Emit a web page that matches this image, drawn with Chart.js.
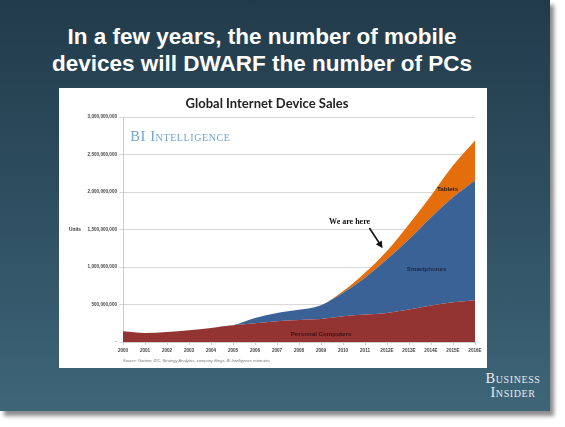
<!DOCTYPE html>
<html>
<head>
<meta charset="utf-8">
<script src="https://cdn.jsdelivr.net/npm/chart.js@4"></script>
<style>
  html, body { margin: 0; padding: 0; background: #fff; }
  body { width: 565px; height: 427px; position: relative; overflow: hidden; }
  #slide {
    position: absolute; left: 0; top: 0; width: 550px; height: 411px;
    background: linear-gradient(to bottom, #223b4a 0%, #2e4f61 50%, #3e6578 100%);
    box-shadow: 4px 5px 4px rgba(0, 0, 0, 0.45);
  }
  #headline {
    position: absolute; left: 0; top: 23px; width: 524px;
    text-align: center; color: #fff;
    font: bold 22.5px/27px "Liberation Sans", Arial, sans-serif;
  }
  #panel {
    position: absolute; left: 59px; top: 88px; width: 428px; height: 280px;
    background: #fff;
  }
  #logo {
    position: absolute; left: 480px; top: 372px; width: 66px;
    text-align: center; color: #e6ebee;
    font: 14.5px/13.5px "Liberation Serif", serif; font-variant: small-caps;
    letter-spacing: 0.6px;
  }
</style>
</head>
<body>
<div id="slide">
  <div id="headline">In a few years, the number of mobile<br>devices will DWARF the number of PCs</div>
  <div id="panel"><canvas id="chart" width="428" height="280"></canvas></div>
  <div id="logo">Business<br>Insider</div>
</div>
<script>
// units sold, millions
const years = ["2000", "2001", "2002", "2003", "2004", "2005", "2006", "2007", "2008",
  "2009", "2010", "2011", "2012E", "2013E", "2014E", "2015E", "2016E"];
const personalComputers = [143, 120, 134, 156, 188, 223, 250, 277, 295, 308, 344, 366, 388, 433, 487, 531, 558];
const smartphones = [0, 0, 0, 0, 0, 0, 71, 111, 134, 183, 312, 491, 715, 938, 1174, 1398, 1594];
const tablets = [0, 0, 0, 0, 0, 0, 0, 0, 0, 0, 20, 67, 111, 200, 290, 424, 536];

const tickFont = { family: "Liberation Sans", size: 4.6, weight: "bold" };

// text labels sitting on the chart, placed by category index and value
const labels = [
  { text: "Tablets", x: 14.75, y: 2040, font: "bold 6.2px 'Liberation Sans'", color: "#2a1a10" },
  { text: "Smartphones", x: 13.8, y: 970, font: "bold 6.2px 'Liberation Sans'", color: "#1a2846" },
  { text: "Personal Computers", x: 9.0, y: 107, font: "bold 6.2px 'Liberation Sans'", color: "#3a1210" },
  { text: "We are here", x: 10.3, y: 1600, font: "bold 8px 'Liberation Serif'", color: "#111" },
];

const overlay = {
  id: "overlay",
  afterDatasetsDraw(chart) {
    const { ctx, scales } = chart;
    const xs = scales.x, ys = scales.y;
    ctx.save();
    ctx.textAlign = "center";
    ctx.textBaseline = "middle";
    labels.forEach((l) => {
      ctx.font = l.font;
      ctx.fillStyle = l.color;
      ctx.fillText(l.text, xs.getPixelForValue(l.x), ys.getPixelForValue(l.y * 1e6));
    });

    // arrow pointing at 2012
    const x1 = xs.getPixelForValue(11.2), y1 = ys.getPixelForValue(1520e6);
    const x2 = xs.getPixelForValue(11.8), y2 = ys.getPixelForValue(1250e6);
    const a = Math.atan2(y2 - y1, x2 - x1);
    ctx.strokeStyle = "#111";
    ctx.lineWidth = 1.6;
    ctx.beginPath();
    ctx.moveTo(x1, y1);
    ctx.lineTo(x2 - 5 * Math.cos(a), y2 - 5 * Math.sin(a));
    ctx.stroke();
    ctx.fillStyle = "#111";
    ctx.beginPath();
    ctx.moveTo(x2, y2);
    ctx.lineTo(x2 - 7 * Math.cos(a) + 3.5 * Math.sin(a), y2 - 7 * Math.sin(a) - 3.5 * Math.cos(a));
    ctx.lineTo(x2 - 7 * Math.cos(a) - 3.5 * Math.sin(a), y2 - 7 * Math.sin(a) + 3.5 * Math.cos(a));
    ctx.closePath();
    ctx.fill();

    // BI Intelligence mark
    ctx.textAlign = "left";
    ctx.fillStyle = "#6ea4d2";
    ctx.font = "small-caps 14.5px 'Liberation Serif'";
    ctx.letterSpacing = "0.6px";
    ctx.fillText("BI Intelligence", xs.getPixelForValue(0.33), ys.getPixelForValue(2730e6));
    ctx.letterSpacing = "0px";

    // axis caption and source line
    ctx.fillStyle = "#333";
    ctx.font = "bold 4.8px 'Liberation Sans'";
    ctx.fillText("Units", 10, ys.getPixelForValue(1500e6));
    ctx.fillStyle = "#777";
    ctx.font = "italic 4px 'Liberation Sans'";
    ctx.fillText("Source: Gartner, IDC, Strategy Analytics, company filings, BI Intelligence estimates",
      chart.chartArea.left, 273);
    ctx.restore();
  },
};

new Chart(document.getElementById("chart"), {
  type: "line",
  data: {
    labels: years,
    datasets: [
      {
        label: "Personal Computers",
        data: personalComputers.map((v) => v * 1e6),
        backgroundColor: "#933433",
        fill: "origin",
      },
      {
        label: "Smartphones",
        data: smartphones.map((v) => v * 1e6),
        backgroundColor: "#3a6297",
        fill: "-1",
      },
      {
        label: "Tablets",
        data: tablets.map((v) => v * 1e6),
        backgroundColor: "#e46d0c",
        fill: "-1",
      },
    ],
  },
  options: {
    responsive: false,
    animation: false,
    layout: { padding: { left: 0, right: 12, top: 0, bottom: 0 } },
    elements: {
      point: { radius: 0 },
      line: { borderWidth: 0, tension: 0.35, cubicInterpolationMode: "monotone" },
    },
    plugins: {
      legend: { display: false },
      tooltip: { enabled: false },
      title: {
        display: true,
        text: "Global Internet Device Sales",
        color: "#222",
        font: { family: "Lato", size: 13, weight: "bold" },
        padding: { top: 8, bottom: 5.4 },
      },
    },
    scales: {
      x: {
        offset: false,
        afterFit: (s) => { s.height = 26; },
        grid: { display: true, drawOnChartArea: false, tickLength: 3, color: "#ccc" },
        border: { color: "#ccc" },
        ticks: { font: tickFont, color: "#444", padding: 3, maxRotation: 0, autoSkip: false },
      },
      y: {
        stacked: true,
        min: 0,
        max: 3e9,
        afterFit: (s) => { s.width = 64; },
        grid: { color: "#d9d9d9", tickLength: 4 },
        border: { color: "#ccc" },
        ticks: {
          stepSize: 5e8,
          font: tickFont,
          color: "#444",
          padding: 2,
          callback: (v) => (v === 0 ? "-" : v.toLocaleString("en-US")),
        },
      },
    },
  },
  plugins: [overlay],
});
</script>
</body>
</html>
